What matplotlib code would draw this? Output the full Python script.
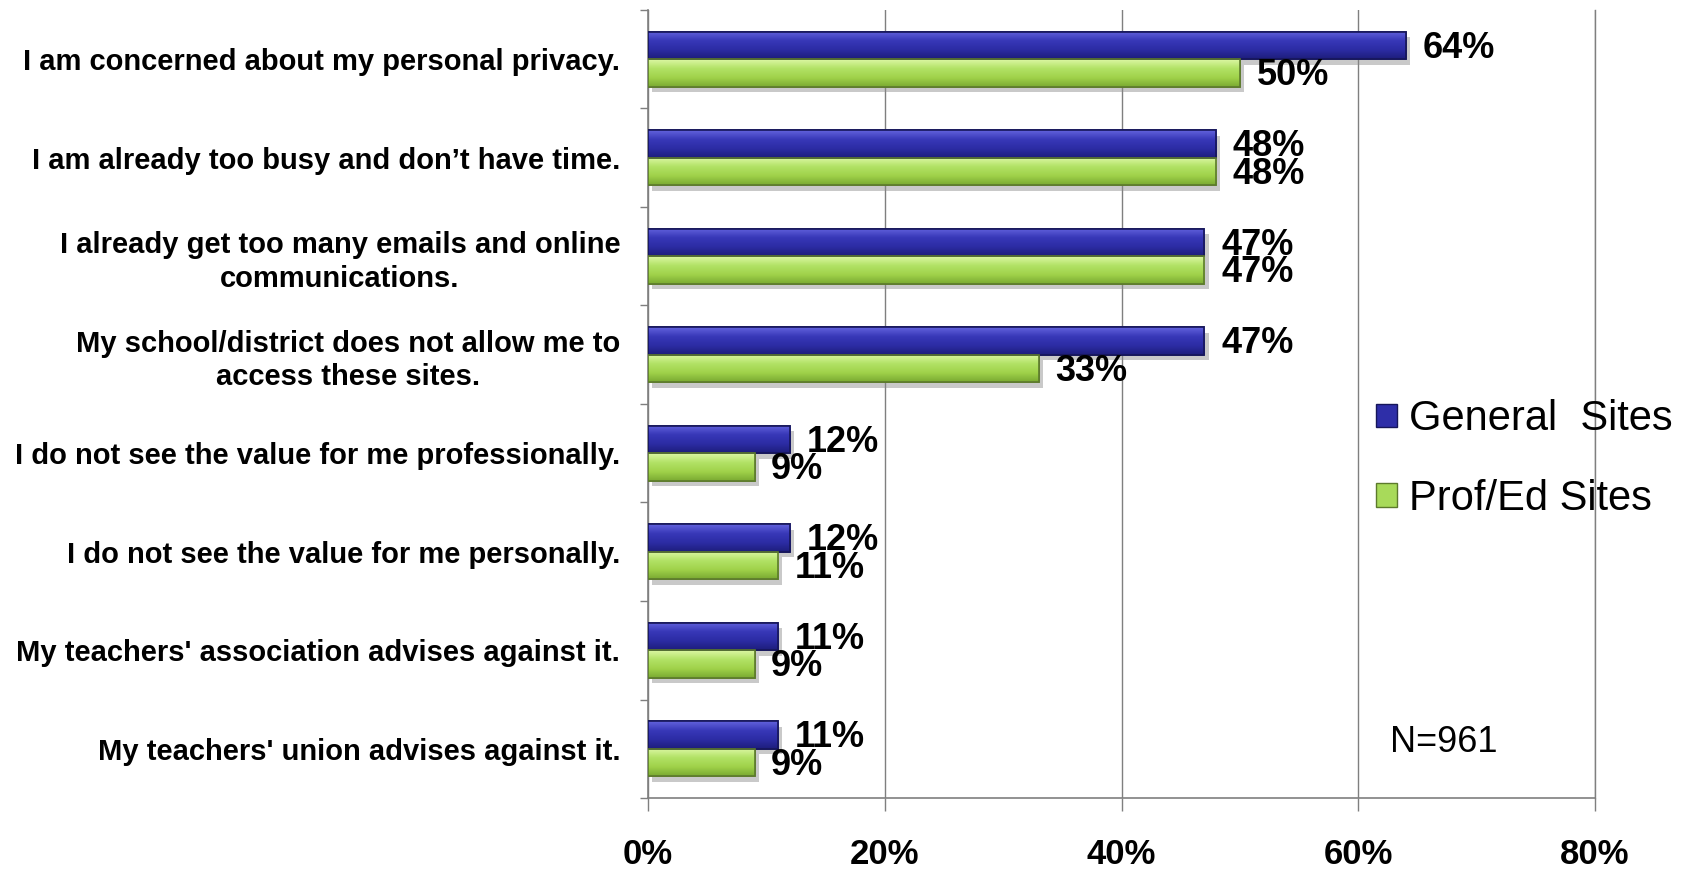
import numpy as np
import matplotlib
matplotlib.use('Agg')
import matplotlib.pyplot as plt
import matplotlib.patheffects as pe
from matplotlib.colors import LinearSegmentedColormap
from matplotlib.patches import Patch

#################### DATA ######################
reasons=['I am concerned about my personal privacy.',
	'I am already too busy and don\u2019t have time.',
	'I already get too many emails and online\ncommunications.',
	'My school/district does not allow me to\naccess these sites.',
	'I do not see the value for me professionally.',
	'I do not see the value for me personally.',
	"My teachers' association advises against it.",
	"My teachers' union advises against it."]
general=[64,48,47,47,12,12,11,11]
profed=[50,48,47,33,9,11,9,9]
series_names=['General  Sites','Prof/Ed Sites']
xtick_vals=[0,20,40,60,80]
note='N=961'
#################################################

plt.rcParams['font.family']=['Liberation Sans','DejaVu Sans']

fig=plt.figure(figsize=(16.82,8.71),dpi=100)
ax=fig.add_axes([648/1682,73/871,947/1682,788/871])

blue_cmap=LinearSegmentedColormap.from_list('b',['#6262dc','#3838b8','#2c2ca4','#1e1e7c'])
green_cmap=LinearSegmentedColormap.from_list('g',['#dcf7a4','#b2e266','#a0d24a','#7aaa32'])
grad=np.linspace(0,1,64).reshape(-1,1)

h=0.28
y=np.arange(len(reasons))
shadow=[pe.SimplePatchShadow(offset=(3,-4),shadow_rgbFace='#888888',alpha=0.45),pe.Normal()]

def draw_bars(vals,offs,cmap,edge):
	bars=ax.barh(y+offs,vals,height=h,color='none',edgecolor=edge,linewidth=1.2,zorder=3)
	for b in bars:
		b.set_facecolor(cmap(0.45))
		b.set_path_effects(shadow)
		x0,y0=b.get_x(),b.get_y()
		im=ax.imshow(grad,extent=(x0,x0+b.get_width(),y0+h,y0),aspect='auto',cmap=cmap,zorder=3.5,interpolation='bilinear')
		im.set_clip_path(b)
	return bars

draw_bars(general,-h/2,blue_cmap,'#16165a')
draw_bars(profed,h/2,green_cmap,'#5c7a2c')
# redraw outlines on top of the gradients
ax.barh(y-h/2,general,height=h,color='none',edgecolor='#16165a',linewidth=1.2,zorder=4)
ax.barh(y+h/2,profed,height=h,color='none',edgecolor='#5c7a2c',linewidth=1.2,zorder=4)

for i in range(len(reasons)):
	ax.annotate('%d%%'%general[i],(general[i],y[i]-h/2),xytext=(12,-2),textcoords='offset points',
		va='center',ha='left',fontsize=26,fontweight='bold',zorder=5)
	ax.annotate('%d%%'%profed[i],(profed[i],y[i]+h/2),xytext=(12,-2),textcoords='offset points',
		va='center',ha='left',fontsize=26,fontweight='bold',zorder=5)

ax.set_xlim(0,80)
ax.set_ylim(len(reasons)-0.5,-0.5)
ax.set_xticks(xtick_vals)
ax.set_xticklabels(['%d%%'%v for v in xtick_vals],fontsize=25,fontweight='bold')
ax.set_yticks(y)
ax.set_yticklabels(reasons,fontsize=21,fontweight='bold',multialignment='center',linespacing=1.25)
ax.set_yticks(np.arange(len(reasons)+1)-0.5,minor=True)
ax.tick_params(axis='y',which='major',length=0,pad=20)
ax.tick_params(axis='y',which='minor',length=6,color='#7f7f7f',width=1)
ax.tick_params(axis='x',which='major',length=9,color='#7f7f7f',width=1,pad=20)

ax.grid(axis='x',color='#7f7f7f',linewidth=1)
ax.set_axisbelow(True)
ax.spines['top'].set_visible(False)
for s in ['left','bottom','right']:
	ax.spines[s].set_color('#7f7f7f')
	ax.spines[s].set_linewidth(1.2)
ax.spines['right'].set_linewidth(1)

handles=[Patch(facecolor='#2e2ea8',edgecolor='#16165a',label=series_names[0]),
	Patch(facecolor='#a8da5a',edgecolor='#5c7a2c',label=series_names[1])]
fig.legend(handles=handles,loc='center left',bbox_to_anchor=(1376/1682,1-459/871),
	frameon=False,fontsize=30,handlelength=0.5,handleheight=0.5,handletextpad=0.3,
	labelspacing=0.95,borderpad=0,borderaxespad=0)

fig.text(1390/1682,1-742/871,note,fontsize=26,va='center',ha='left')

plt.savefig('out.png',dpi=100)
